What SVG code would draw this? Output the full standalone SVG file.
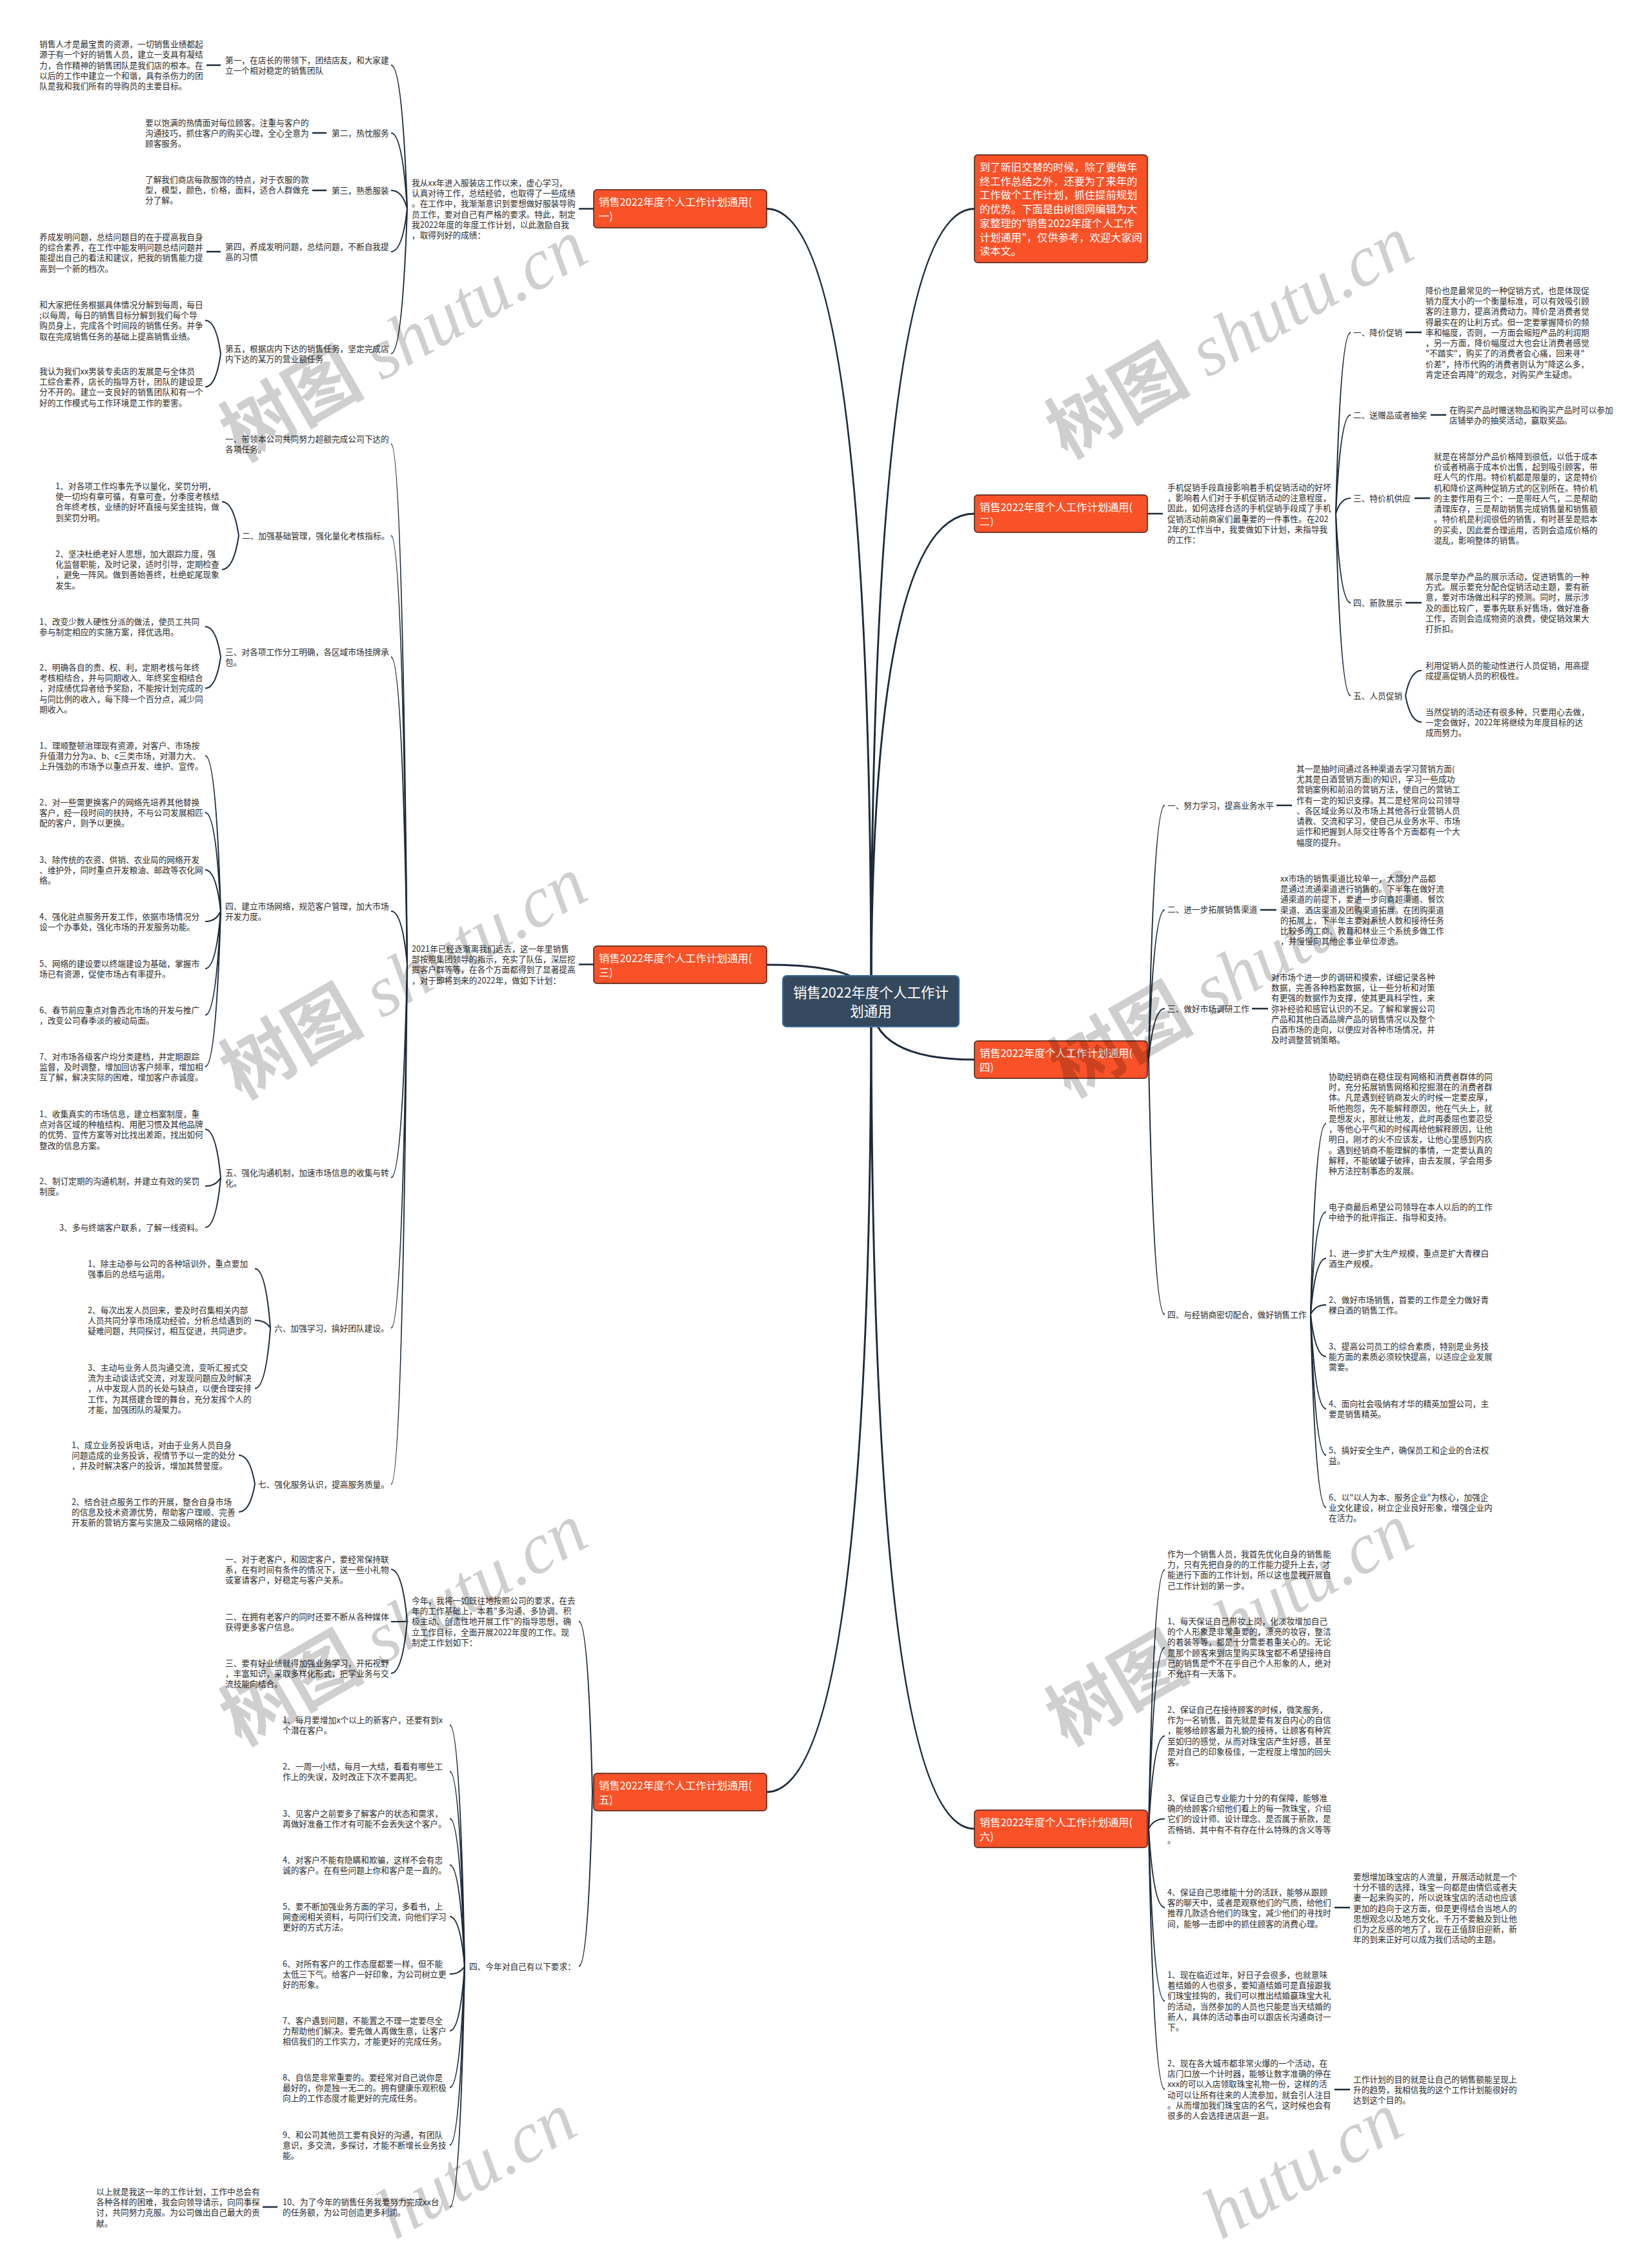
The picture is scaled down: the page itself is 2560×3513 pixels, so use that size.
<svg xmlns="http://www.w3.org/2000/svg" width="2560" height="3513" viewBox="0 0 2560 3513">
<style>
.t{font-family:"Noto Sans CJK SC","Liberation Sans",sans-serif;font-size:12.7px;fill:#2b2b2b}
.bt{font-family:"Noto Sans CJK SC","Liberation Sans",sans-serif;font-size:16.3px;fill:#ffffff}
.rt{font-family:"Noto Sans CJK SC","Liberation Sans",sans-serif;font-size:21.5px;fill:#ffffff}
.box{fill:#fa5228;stroke:#4a1c10;stroke-width:1.5}
.root{fill:#34495e;stroke:#3d6aa0;stroke-width:2}
.c{fill:none;stroke:#1c2b3b;stroke-width:2}
.m{fill:none;stroke:#1c2b3b;stroke-width:3}
.s{fill:none;stroke:#1c2b3b;stroke-width:2.5}
.wm{font-size:112px;fill:#000;fill-opacity:0.19}
.wm1{font-family:"Noto Sans CJK SC",sans-serif;font-weight:bold}
.wm2{font-family:"Liberation Serif",serif;font-style:italic}
</style>
<rect width="2560" height="3513" fill="#ffffff"/>
<g id="connectors">
<path class="m" d="M1350,1551 Q1350,323.5 1188,323.5"/>
<path class="m" d="M1350,1551 Q1350,1495 1188,1495"/>
<path class="m" d="M1350,1551 Q1350,2777 1188,2777"/>
<path class="m" d="M1350,1551 Q1350,323.5 1510,323.5"/>
<path class="m" d="M1350,1551 Q1350,796 1510,796"/>
<path class="m" d="M1350,1551 Q1350,1642 1510,1642"/>
<path class="m" d="M1350,1551 Q1350,2834 1510,2834"/>
<path class="s" d="M897,323.5 H920"/>
<path class="s" d="M897,1494.5 H920"/>
<path class="s" d="M1778,796 H1802"/>
<path class="c" d="M918,2777 Q911.7,2512.6 897,2512.6"/>
<path class="c" d="M918,2777 Q911.7,3047 897,3047"/>
<path class="c" d="M631,323.5 Q623.5,101 606,101"/>
<path class="c" d="M631,323.5 Q623.5,206 606,206"/>
<path class="c" d="M631,323.5 Q623.5,295 606,295"/>
<path class="c" d="M631,323.5 Q623.5,390 606,390"/>
<path class="c" d="M631,323.5 Q623.5,548 606,548"/>
<path class="s" d="M320,101 H342"/>
<path class="s" d="M484,206 H506"/>
<path class="s" d="M484,295 H506"/>
<path class="s" d="M320,390 H342"/>
<path class="c" d="M342,548 Q334.8,496.5 318,496.5"/>
<path class="c" d="M342,548 Q334.8,599.5 318,599.5"/>
<path class="c" d="M631,1494.5 Q623.5,688 606,688"/>
<path class="c" d="M631,1494.5 Q623.5,830 606,830"/>
<path class="c" d="M631,1494.5 Q623.5,1018 606,1018"/>
<path class="c" d="M631,1494.5 Q623.5,1412 606,1412"/>
<path class="c" d="M631,1494.5 Q623.5,1825 606,1825"/>
<path class="c" d="M631,1494.5 Q623.5,2058 606,2058"/>
<path class="c" d="M631,1494.5 Q623.5,2300 606,2300"/>
<path class="c" d="M370,830 Q362,777.5 344,777.5"/>
<path class="c" d="M370,830 Q362,882.5 344,882.5"/>
<path class="c" d="M342,1018 Q334.8,971 318,971"/>
<path class="c" d="M342,1018 Q334.8,1066.6 318,1066.6"/>
<path class="c" d="M342,1412 Q334.8,1171 318,1171"/>
<path class="c" d="M342,1412 Q334.8,1259 318,1259"/>
<path class="c" d="M342,1412 Q334.8,1348 318,1348"/>
<path class="c" d="M342,1412 Q334.8,1428 318,1428"/>
<path class="c" d="M342,1412 Q334.8,1501 318,1501"/>
<path class="c" d="M342,1412 Q334.8,1573 318,1573"/>
<path class="c" d="M342,1412 Q334.8,1653 318,1653"/>
<path class="c" d="M342,1825 Q334.8,1750 318,1750"/>
<path class="c" d="M342,1825 Q334.8,1838 318,1838"/>
<path class="c" d="M342,1825 Q334.8,1902 318,1902"/>
<path class="c" d="M419,2058 Q411.8,1966 395,1966"/>
<path class="c" d="M419,2058 Q411.8,2046 395,2046"/>
<path class="c" d="M419,2058 Q411.8,2151.6 395,2151.6"/>
<path class="c" d="M395,2300 Q387.5,2255 370,2255"/>
<path class="c" d="M395,2300 Q387.5,2343 370,2343"/>
<path class="c" d="M631,2512.6 Q623.5,2432 606,2432"/>
<path class="c" d="M631,2512.6 Q623.5,2513 606,2513"/>
<path class="c" d="M631,2512.6 Q623.5,2593 606,2593"/>
<path class="c" d="M720,3047 Q713,2673 697,2673"/>
<path class="c" d="M720,3047 Q713,2745 697,2745"/>
<path class="c" d="M720,3047 Q713,2818 697,2818"/>
<path class="c" d="M720,3047 Q713,2890 697,2890"/>
<path class="c" d="M720,3047 Q713,2970 697,2970"/>
<path class="c" d="M720,3047 Q713,3059 697,3059"/>
<path class="c" d="M720,3047 Q713,3147 697,3147"/>
<path class="c" d="M720,3047 Q713,3235 697,3235"/>
<path class="c" d="M720,3047 Q713,3324 697,3324"/>
<path class="c" d="M720,3047 Q713,3420 697,3420"/>
<path class="s" d="M407,3420 H430"/>
<path class="c" d="M2070,796 Q2077,515 2093,515"/>
<path class="c" d="M2070,796 Q2077,643 2093,643"/>
<path class="c" d="M2070,796 Q2077,772 2093,772"/>
<path class="c" d="M2070,796 Q2077,934 2093,934"/>
<path class="c" d="M2070,796 Q2077,1078 2093,1078"/>
<path class="s" d="M2178,515 H2203"/>
<path class="s" d="M2217,643 H2241"/>
<path class="s" d="M2192,772 H2216"/>
<path class="s" d="M2178,934 H2203"/>
<path class="c" d="M2178,1078 Q2185.5,1039 2203,1039"/>
<path class="c" d="M2178,1078 Q2185.5,1119 2203,1119"/>
<path class="c" d="M1780,1642 Q1787.5,1248 1805,1248"/>
<path class="c" d="M1780,1642 Q1787.5,1410 1805,1410"/>
<path class="c" d="M1780,1642 Q1787.5,1563 1805,1563"/>
<path class="c" d="M1780,1642 Q1787.5,2037 1805,2037"/>
<path class="s" d="M1978,1248 H2002"/>
<path class="s" d="M1953,1410 H1978"/>
<path class="s" d="M1940,1563 H1965"/>
<path class="c" d="M2031,2037 Q2038,1741 2055,1741"/>
<path class="c" d="M2031,2037 Q2038,1878 2055,1878"/>
<path class="c" d="M2031,2037 Q2038,1950 2055,1950"/>
<path class="c" d="M2031,2037 Q2038,2022 2055,2022"/>
<path class="c" d="M2031,2037 Q2038,2102 2055,2102"/>
<path class="c" d="M2031,2037 Q2038,2183 2055,2183"/>
<path class="c" d="M2031,2037 Q2038,2255 2055,2255"/>
<path class="c" d="M2031,2037 Q2038,2336 2055,2336"/>
<path class="c" d="M1780,2834 Q1787.5,2432.5 1805,2432.5"/>
<path class="c" d="M1780,2834 Q1787.5,2553 1805,2553"/>
<path class="c" d="M1780,2834 Q1787.5,2690 1805,2690"/>
<path class="c" d="M1780,2834 Q1787.5,2818.6 1805,2818.6"/>
<path class="c" d="M1780,2834 Q1787.5,2956 1805,2956"/>
<path class="c" d="M1780,2834 Q1787.5,3100.8 1805,3100.8"/>
<path class="c" d="M1780,2834 Q1787.5,3237.8 1805,3237.8"/>
<path class="s" d="M2068,2956 H2092"/>
<path class="s" d="M2068,3238 H2092"/>
</g>

<g id="root"><rect class="root" x="1213" y="1512" width="273" height="79" rx="6"/>
<text class="rt" text-anchor="middle" x="1349.5" y="1545.8"><tspan x="1349.5">销售2022年度个人工作计</tspan><tspan x="1349.5" dy="29">划通用</tspan></text></g>

<g id="b1"><rect class="box" x="920" y="294" width="268" height="59" rx="5"/>
<text class="bt" x="928" y="319"><tspan x="928">销售2022年度个人工作计划通用(</tspan><tspan x="928" dy="22">一)</tspan></text></g>
<g id="b3"><rect class="box" x="920" y="1466" width="268" height="58" rx="5"/>
<text class="bt" x="928" y="1491"><tspan x="928">销售2022年度个人工作计划通用(</tspan><tspan x="928" dy="22">三)</tspan></text></g>
<g id="b5"><rect class="box" x="920" y="2748" width="268" height="58" rx="5"/>
<text class="bt" x="928" y="2773"><tspan x="928">销售2022年度个人工作计划通用(</tspan><tspan x="928" dy="22">五)</tspan></text></g>
<g id="note"><rect class="box" x="1510" y="240" width="268" height="167" rx="5"/>
<text class="bt" x="1518" y="265"><tspan x="1518">到了新旧交替的时候，除了要做年</tspan><tspan x="1518" dy="21.7">终工作总结之外，还要为了来年的</tspan><tspan x="1518" dy="21.7">工作做个工作计划，抓住提前规划</tspan><tspan x="1518" dy="21.7">的优势。下面是由树图网编辑为大</tspan><tspan x="1518" dy="21.7">家整理的"销售2022年度个人工作</tspan><tspan x="1518" dy="21.7">计划通用"，仅供参考，欢迎大家阅</tspan><tspan x="1518" dy="21.7">读本文。</tspan></text></g>
<g id="b2"><rect class="box" x="1510" y="767" width="268" height="58" rx="5"/>
<text class="bt" x="1518" y="792"><tspan x="1518">销售2022年度个人工作计划通用(</tspan><tspan x="1518" dy="22">二)</tspan></text></g>
<g id="b4"><rect class="box" x="1510" y="1613" width="268" height="58" rx="5"/>
<text class="bt" x="1518" y="1638"><tspan x="1518">销售2022年度个人工作计划通用(</tspan><tspan x="1518" dy="22">四)</tspan></text></g>
<g id="b6"><rect class="box" x="1510" y="2805" width="268" height="58" rx="5"/>
<text class="bt" x="1518" y="2830"><tspan x="1518">销售2022年度个人工作计划通用(</tspan><tspan x="1518" dy="22">六)</tspan></text></g>

<g id="s1">
<text class="t" x="638" y="287.6"><tspan x="638">我从xx年进入服装店工作以来，虚心学习，</tspan><tspan x="638" dy="16.3">认真对待工作，总结经验，也取得了一些成绩</tspan><tspan x="638" dy="16.3">。在工作中，我渐渐意识到要想做好服装导购</tspan><tspan x="638" dy="16.3">员工作，要对自己有严格的要求。特此，制定</tspan><tspan x="638" dy="16.3">我2022年度的年度工作计划，以此激励自我</tspan><tspan x="638" dy="16.3">，取得列好的成绩：</tspan></text>
<text class="t" x="349" y="97.6"><tspan x="349">第一，在店长的带领下，团结店友，和大家建</tspan><tspan x="349" dy="16.3">立一个相对稳定的销售团队</tspan></text>
<text class="t" x="61" y="73.1"><tspan x="61">销售人才是最宝贵的资源，一切销售业绩都起</tspan><tspan x="61" dy="16.3">源于有一个好的销售人员，建立一支具有凝结</tspan><tspan x="61" dy="16.3">力，合作精神的销售团队是我们店的根本。在</tspan><tspan x="61" dy="16.3">以后的工作中建立一个和谐，具有杀伤力的团</tspan><tspan x="61" dy="16.3">队是我和我们所有的导购员的主要目标。</tspan></text>
<text class="t" x="514" y="210.6">第二，热忱服务</text>
<text class="t" x="225" y="194.6"><tspan x="225">要以饱满的热情面对每位顾客。注重与客户的</tspan><tspan x="225" dy="16.3">沟通技巧，抓住客户的购买心理，全心全意为</tspan><tspan x="225" dy="16.3">顾客服务。</tspan></text>
<text class="t" x="514" y="299.6">第三，熟悉服装</text>
<text class="t" x="225" y="282.6"><tspan x="225">了解我们商店每款服饰的特点，对于衣服的款</tspan><tspan x="225" dy="16.3">型，模型，颜色，价格，面料，适合人群做充</tspan><tspan x="225" dy="16.3">分了解。</tspan></text>
<text class="t" x="349" y="386.6"><tspan x="349">第四，养成发明问题，总结问题，不断自我提</tspan><tspan x="349" dy="16.3">高的习惯</tspan></text>
<text class="t" x="61" y="371.6"><tspan x="61">养成发明问题，总结问题目的在于提高我自身</tspan><tspan x="61" dy="16.3">的综合素养，在工作中能发明问题总结问题并</tspan><tspan x="61" dy="16.3">能提出自己的看法和建议，把我的销售能力提</tspan><tspan x="61" dy="16.3">高到一个新的档次。</tspan></text>
<text class="t" x="349" y="544.6"><tspan x="349">第五，根据店内下达的销售任务，坚定完成店</tspan><tspan x="349" dy="16.3">内下达的某万的营业额任务</tspan></text>
<text class="t" x="61" y="476.6"><tspan x="61">和大家把任务根据具体情况分解到每周，每日</tspan><tspan x="61" dy="16.3">;以每周，每日的销售目标分解到我们每个导</tspan><tspan x="61" dy="16.3">购员身上，完成各个时间段的销售任务。并争</tspan><tspan x="61" dy="16.3">取在完成销售任务的基础上提高销售业绩。</tspan></text>
<text class="t" x="61" y="579.6"><tspan x="61">我认为我们xx男装专卖店的发展是与全体员</tspan><tspan x="61" dy="16.3">工综合素养，店长的指导方针，团队的建设是</tspan><tspan x="61" dy="16.3">分不开的。建立一支良好的销售团队和有一个</tspan><tspan x="61" dy="16.3">好的工作模式与工作环境是工作的要害。</tspan></text>
</g>

<g id="s3">
<text class="t" x="638" y="1474.6"><tspan x="638">2021年已经逐渐离我们远去，这一年里销售</tspan><tspan x="638" dy="16.3">部按照集团领导的指示，充实了队伍，深层挖</tspan><tspan x="638" dy="16.3">掘客户群等等，在各个方面都得到了显著提高</tspan><tspan x="638" dy="16.3">，对于即将到来的2022年，做如下计划：</tspan></text>
<text class="t" x="349" y="684.6"><tspan x="349">一、带领本公司共同努力超额完成公司下达的</tspan><tspan x="349" dy="16.3">各项任务。</tspan></text>
<text class="t" x="375" y="834.6">二、加强基础管理，强化量化考核指标。</text>
<text class="t" x="86" y="757.6"><tspan x="86">1、对各项工作均事先予以量化，奖罚分明，</tspan><tspan x="86" dy="16.3">使一切均有章可循，有章可查，分季度考核结</tspan><tspan x="86" dy="16.3">合年终考核，业绩的好坏直接与奖金挂钩，做</tspan><tspan x="86" dy="16.3">到奖罚分明。</tspan></text>
<text class="t" x="86" y="862.6"><tspan x="86">2、坚决杜绝老好人思想，加大跟踪力度，强</tspan><tspan x="86" dy="16.3">化监督职能，及时记录，适时引导，定期检查</tspan><tspan x="86" dy="16.3">，避免一阵风。做到善始善终，杜绝蛇尾现象</tspan><tspan x="86" dy="16.3">发生。</tspan></text>
<text class="t" x="349" y="1014.6"><tspan x="349">三、对各项工作分工明确，各区域市场挂牌承</tspan><tspan x="349" dy="16.3">包。</tspan></text>
<text class="t" x="61" y="967.6"><tspan x="61">1、改变少数人硬性分派的做法，使员工共同</tspan><tspan x="61" dy="16.3">参与制定相应的实施方案，择优选用。</tspan></text>
<text class="t" x="61" y="1038.6"><tspan x="61">2、明确各自的责、权、利，定期考核与年终</tspan><tspan x="61" dy="16.3">考核相结合，并与同期收入、年终奖金相结合</tspan><tspan x="61" dy="16.3">，对成绩优异者给予奖励，不能按计划完成的</tspan><tspan x="61" dy="16.3">与同比例的收入，每下降一个百分点，减少同</tspan><tspan x="61" dy="16.3">期收入。</tspan></text>
<text class="t" x="349" y="1408.6"><tspan x="349">四、建立市场网络，规范客户管理，加大市场</tspan><tspan x="349" dy="16.3">开发力度。</tspan></text>
<text class="t" x="61" y="1159.6"><tspan x="61">1、理顺整顿治理现有资源，对客户、市场按</tspan><tspan x="61" dy="16.3">升值潜力分为a、b、c三类市场，对潜力大、</tspan><tspan x="61" dy="16.3">上升强劲的市场予以重点开发、维护、宣传。</tspan></text>
<text class="t" x="61" y="1247.6"><tspan x="61">2、对一些需更换客户的网络先培养其他替换</tspan><tspan x="61" dy="16.3">客户，经一段时间的扶持，不与公司发展相匹</tspan><tspan x="61" dy="16.3">配的客户，则予以更换。</tspan></text>
<text class="t" x="61" y="1336.6"><tspan x="61">3、除传统的农资、供销、农业局的网络开发</tspan><tspan x="61" dy="16.3">、维护外，同时重点开发粮油、邮政等农化网</tspan><tspan x="61" dy="16.3">络。</tspan></text>
<text class="t" x="61" y="1424.6"><tspan x="61">4、强化驻点服务开发工作，依据市场情况分</tspan><tspan x="61" dy="16.3">设一个办事处，强化市场的开发服务功能。</tspan></text>
<text class="t" x="61" y="1497.6"><tspan x="61">5、网络的建设要以终端建设为基础，掌握市</tspan><tspan x="61" dy="16.3">场已有资源，促使市场占有率提升。</tspan></text>
<text class="t" x="61" y="1569.6"><tspan x="61">6、春节前应重点对鲁西北市场的开发与推广</tspan><tspan x="61" dy="16.3">，改变公司春季淡的被动局面。</tspan></text>
<text class="t" x="61" y="1641.6"><tspan x="61">7、对市场各级客户均分类建档，并定期跟踪</tspan><tspan x="61" dy="16.3">监督，及时调整，增加回访客户频率，增加相</tspan><tspan x="61" dy="16.3">互了解，解决实际的困难，增加客户赤诚度。</tspan></text>
<text class="t" x="349" y="1821.6"><tspan x="349">五、强化沟通机制，加速市场信息的收集与转</tspan><tspan x="349" dy="16.3">化。</tspan></text>
<text class="t" x="61" y="1730.6"><tspan x="61">1、收集真实的市场信息，建立档案制度，重</tspan><tspan x="61" dy="16.3">点对各区域的种植结构、用肥习惯及其他品牌</tspan><tspan x="61" dy="16.3">的优势、宣传方案等对比找出差距，找出如何</tspan><tspan x="61" dy="16.3">整改的信息方案。</tspan></text>
<text class="t" x="61" y="1834.6"><tspan x="61">2、制订定期的沟通机制，并建立有效的奖罚</tspan><tspan x="61" dy="16.3">制度。</tspan></text>
<text class="t" x="92" y="1906.6">3、多与终端客户联系，了解一线资料。</text>
<text class="t" x="425" y="2062.6">六、加强学习，搞好团队建设。</text>
<text class="t" x="136" y="1962.6"><tspan x="136">1、除主动参与公司的各种培训外，重点要加</tspan><tspan x="136" dy="16.3">强事后的总结与运用。</tspan></text>
<text class="t" x="136" y="2034.6"><tspan x="136">2、每次出发人员回来，要及时召集相关内部</tspan><tspan x="136" dy="16.3">人员共同分享市场成功经验，分析总结遇到的</tspan><tspan x="136" dy="16.3">疑难问题，共同探讨，相互促进，共同进步。</tspan></text>
<text class="t" x="136" y="2123.6"><tspan x="136">3、主动与业务人员沟通交流，变听汇报式交</tspan><tspan x="136" dy="16.3">流为主动谈话式交流，对发现问题应及时解决</tspan><tspan x="136" dy="16.3">，从中发现人员的长处与缺点，以便合理安排</tspan><tspan x="136" dy="16.3">工作，为其搭建合理的舞台，充分发挥个人的</tspan><tspan x="136" dy="16.3">才能，加强团队的凝聚力。</tspan></text>
<text class="t" x="400" y="2304.6">七、强化服务认识，提高服务质量。</text>
<text class="t" x="111" y="2243.6"><tspan x="111">1、成立业务投诉电话，对由于业务人员自身</tspan><tspan x="111" dy="16.3">问题造成的业务投诉，视情节予以一定的处分</tspan><tspan x="111" dy="16.3">，并及时解决客户的投诉，增加其赞誉度。</tspan></text>
<text class="t" x="111" y="2331.6"><tspan x="111">2、结合驻点服务工作的开展，整合自身市场</tspan><tspan x="111" dy="16.3">的信息及技术资源优势，帮助客户理顺、完善</tspan><tspan x="111" dy="16.3">开发新的营销方案与实施及二级网络的建设。</tspan></text>
</g>

<g id="s5">
<text class="t" x="638" y="2484.6"><tspan x="638">今年，我将一如既往地按照公司的要求，在去</tspan><tspan x="638" dy="16.3">年的工作基础上，本着"多沟通、多协调、积</tspan><tspan x="638" dy="16.3">极主动、创造性地开展工作"的指导思想，确</tspan><tspan x="638" dy="16.3">立工作目标，全面开展2022年度的工作。现</tspan><tspan x="638" dy="16.3">制定工作划如下：</tspan></text>
<text class="t" x="349" y="2420.6"><tspan x="349">一、对于老客户，和固定客户，要经常保持联</tspan><tspan x="349" dy="16.3">系，在有时间有条件的情况下，送一些小礼物</tspan><tspan x="349" dy="16.3">或宴请客户，好稳定与客户关系。</tspan></text>
<text class="t" x="349" y="2509.6"><tspan x="349">二、在拥有老客户的同时还要不断从各种媒体</tspan><tspan x="349" dy="16.3">获得更多客户信息。</tspan></text>
<text class="t" x="349" y="2581.6"><tspan x="349">三、要有好业绩就得加强业务学习，开拓视野</tspan><tspan x="349" dy="16.3">，丰富知识，采取多样化形式，把学业务与交</tspan><tspan x="349" dy="16.3">流技能向结合。</tspan></text>
<text class="t" x="727" y="3051.6">四、今年对自己有以下要求：</text>
<text class="t" x="438" y="2669.6"><tspan x="438">1、每月要增加x个以上的新客户，还要有到x</tspan><tspan x="438" dy="16.3">个潜在客户。</tspan></text>
<text class="t" x="438" y="2741.6"><tspan x="438">2、一周一小结，每月一大结，看看有哪些工</tspan><tspan x="438" dy="16.3">作上的失误，及时改正下次不要再犯。</tspan></text>
<text class="t" x="438" y="2814.6"><tspan x="438">3、见客户之前要多了解客户的状态和需求，</tspan><tspan x="438" dy="16.3">再做好准备工作才有可能不会丢失这个客户。</tspan></text>
<text class="t" x="438" y="2886.6"><tspan x="438">4、对客户不能有隐瞒和欺骗，这样不会有忠</tspan><tspan x="438" dy="16.3">诚的客户。在有些问题上你和客户是一直的。</tspan></text>
<text class="t" x="438" y="2958.6"><tspan x="438">5、要不断加强业务方面的学习，多看书，上</tspan><tspan x="438" dy="16.3">网查阅相关资料，与同行们交流，向他们学习</tspan><tspan x="438" dy="16.3">更好的方式方法。</tspan></text>
<text class="t" x="438" y="3047.6"><tspan x="438">6、对所有客户的工作态度都要一样，但不能</tspan><tspan x="438" dy="16.3">太低三下气。给客户一好印象，为公司树立更</tspan><tspan x="438" dy="16.3">好的形象。</tspan></text>
<text class="t" x="438" y="3135.6"><tspan x="438">7、客户遇到问题，不能置之不理一定要尽全</tspan><tspan x="438" dy="16.3">力帮助他们解决。要先做人再做生意，让客户</tspan><tspan x="438" dy="16.3">相信我们的工作实力，才能更好的完成任务。</tspan></text>
<text class="t" x="438" y="3223.6"><tspan x="438">8、自信是非常重要的。要经常对自己说你是</tspan><tspan x="438" dy="16.3">最好的，你是独一无二的。拥有健康乐观积极</tspan><tspan x="438" dy="16.3">向上的工作态度才能更好的完成任务。</tspan></text>
<text class="t" x="438" y="3312.6"><tspan x="438">9、和公司其他员工要有良好的沟通，有团队</tspan><tspan x="438" dy="16.3">意识，多交流，多探讨，才能不断增长业务技</tspan><tspan x="438" dy="16.3">能。</tspan></text>
<text class="t" x="438" y="3416.6"><tspan x="438">10、为了今年的销售任务我要努力完成xx台</tspan><tspan x="438" dy="16.3">的任务额，为公司创造更多利润。</tspan></text>
<text class="t" x="149" y="3400.6"><tspan x="149">以上就是我这一年的工作计划，工作中总会有</tspan><tspan x="149" dy="16.3">各种各样的困难，我会向领导请示，向同事探</tspan><tspan x="149" dy="16.3">讨，共同努力克服。为公司做出自己最大的贡</tspan><tspan x="149" dy="16.3">献。</tspan></text>
</g>

<g id="s2">
<text class="t" x="1809" y="759.6"><tspan x="1809">手机促销手段直接影响着手机促销活动的好坏</tspan><tspan x="1809" dy="16.3">，影响着人们对于手机促销活动的注意程度，</tspan><tspan x="1809" dy="16.3">因此，如何选择合适的手机促销手段成了手机</tspan><tspan x="1809" dy="16.3">促销活动前商家们最重要的一件事性。在202</tspan><tspan x="1809" dy="16.3">2年的工作当中，我要做如下计划，来指导我</tspan><tspan x="1809" dy="16.3">的工作：</tspan></text>
<text class="t" x="2097" y="519.6">一、降价促销</text>
<text class="t" x="2209" y="454.6"><tspan x="2209">降价也是最常见的一种促销方式，也是体现促</tspan><tspan x="2209" dy="16.3">销力度大小的一个衡量标准，可以有效吸引顾</tspan><tspan x="2209" dy="16.3">客的注意力，提高消费动力。降价是消费者觉</tspan><tspan x="2209" dy="16.3">得最实在的让利方式。但一定要掌握降价的频</tspan><tspan x="2209" dy="16.3">率和幅度，否则，一方面会缩短产品的利润期</tspan><tspan x="2209" dy="16.3">，另一方面，降价幅度过大也会让消费者感觉</tspan><tspan x="2209" dy="16.3">"不踏实"，购买了的消费者会心痛，回来寻"</tspan><tspan x="2209" dy="16.3">价差"，持币代购的消费者则认为"降这么多，</tspan><tspan x="2209" dy="16.3">肯定还会再降"的观念，对购买产生疑虑。</tspan></text>
<text class="t" x="2097" y="647.6">二、送赠品或者抽奖</text>
<text class="t" x="2246" y="639.6"><tspan x="2246">在购买产品时赠送物品和购买产品时可以参加</tspan><tspan x="2246" dy="16.3">店铺举办的抽奖活动，赢取奖品。</tspan></text>
<text class="t" x="2097" y="776.6">三、特价机供应</text>
<text class="t" x="2222" y="711.6"><tspan x="2222">就是在将部分产品价格降到很低，以低于成本</tspan><tspan x="2222" dy="16.3">价或者稍高于成本价出售，起到吸引顾客，带</tspan><tspan x="2222" dy="16.3">旺人气的作用。特价机都是限量的，这是特价</tspan><tspan x="2222" dy="16.3">机和降价这两种促销方式的区别所在。特价机</tspan><tspan x="2222" dy="16.3">的主要作用有三个：一是带旺人气，二是帮助</tspan><tspan x="2222" dy="16.3">清理库存，三是帮助销售完成销售量和销售额</tspan><tspan x="2222" dy="16.3">。特价机是利润很低的销售，有时甚至是赔本</tspan><tspan x="2222" dy="16.3">的买卖，因此要合理运用，否则会造成价格的</tspan><tspan x="2222" dy="16.3">混乱，影响整体的销售。</tspan></text>
<text class="t" x="2097" y="938.6">四、新款展示</text>
<text class="t" x="2209" y="897.6"><tspan x="2209">展示是举办产品的展示活动，促进销售的一种</tspan><tspan x="2209" dy="16.3">方式。展示要充分配合促销活动主题，要有新</tspan><tspan x="2209" dy="16.3">意，要对市场做出科学的预测。同时，展示涉</tspan><tspan x="2209" dy="16.3">及的面比较广，要事先联系好售场，做好准备</tspan><tspan x="2209" dy="16.3">工作，否则会造成物资的浪费，使促销效果大</tspan><tspan x="2209" dy="16.3">打折扣。</tspan></text>
<text class="t" x="2097" y="1082.6">五、人员促销</text>
<text class="t" x="2209" y="1035.6"><tspan x="2209">利用促销人员的能动性进行人员促销，用高提</tspan><tspan x="2209" dy="16.3">成提高促销人员的积极性。</tspan></text>
<text class="t" x="2209" y="1107.6"><tspan x="2209">当然促销的活动还有很多种，只要用心去做，</tspan><tspan x="2209" dy="16.3">一定会做好，2022年将继续为年度目标的达</tspan><tspan x="2209" dy="16.3">成而努力。</tspan></text>
</g>

<g id="s4">
<text class="t" x="1809" y="1252.6">一、努力学习，提高业务水平</text>
<text class="t" x="2009" y="1195.6"><tspan x="2009">其一是抽时间通过各种渠道去学习营销方面(</tspan><tspan x="2009" dy="16.3">尤其是白酒营销方面)的知识，学习一些成功</tspan><tspan x="2009" dy="16.3">营销案例和前沿的营销方法，使自己的营销工</tspan><tspan x="2009" dy="16.3">作有一定的知识支撑。其二是经常向公司领导</tspan><tspan x="2009" dy="16.3">、各区域业务以及市场上其他各行业营销人员</tspan><tspan x="2009" dy="16.3">请教、交流和学习，使自己从业务水平、市场</tspan><tspan x="2009" dy="16.3">运作和把握到人际交往等各个方面都有一个大</tspan><tspan x="2009" dy="16.3">幅度的提升。</tspan></text>
<text class="t" x="1809" y="1413.6">二、进一步拓展销售渠道</text>
<text class="t" x="1984" y="1365.6"><tspan x="1984">xx市场的销售渠道比较单一，大部分产品都</tspan><tspan x="1984" dy="16.3">是通过流通渠道进行销售的。下半年在做好流</tspan><tspan x="1984" dy="16.3">通渠道的前提下，要进一步向商超渠道、餐饮</tspan><tspan x="1984" dy="16.3">渠道、酒店渠道及团购渠道拓展。在团购渠道</tspan><tspan x="1984" dy="16.3">的拓展上，下半年主要对系统人数和接待任务</tspan><tspan x="1984" dy="16.3">比较多的工商、教育和林业三个系统多做工作</tspan><tspan x="1984" dy="16.3">，并慢慢向其他企事业单位渗透。</tspan></text>
<text class="t" x="1809" y="1567.6">三、做好市场调研工作</text>
<text class="t" x="1970" y="1518.6"><tspan x="1970">对市场个进一步的调研和摸索，详细记录各种</tspan><tspan x="1970" dy="16.3">数据，完善各种档案数据，让一些分析和对策</tspan><tspan x="1970" dy="16.3">有更强的数据作为支撑，使其更具科学性，来</tspan><tspan x="1970" dy="16.3">弥补经验和感官认识的不足。了解和掌握公司</tspan><tspan x="1970" dy="16.3">产品和其他白酒品牌产品的销售情况以及整个</tspan><tspan x="1970" dy="16.3">白酒市场的走向，以便应对各种市场情况，并</tspan><tspan x="1970" dy="16.3">及时调整营销策略。</tspan></text>
<text class="t" x="1809" y="2041.6">四、与经销商密切配合，做好销售工作</text>
<text class="t" x="2059" y="1672.6"><tspan x="2059">协助经销商在稳住现有网络和消费者群体的同</tspan><tspan x="2059" dy="16.3">时，充分拓展销售网络和挖掘潜在的消费者群</tspan><tspan x="2059" dy="16.3">体。凡是遇到经销商发火的时候一定要皮厚，</tspan><tspan x="2059" dy="16.3">听他抱怨，先不能解释原因，他在气头上，就</tspan><tspan x="2059" dy="16.3">是想发火，那就让他发，此时再委屈也要忍受</tspan><tspan x="2059" dy="16.3">，等他心平气和的时候再给他解释原因，让他</tspan><tspan x="2059" dy="16.3">明白，刚才的火不应该发，让他心里感到内疚</tspan><tspan x="2059" dy="16.3">。遇到经销商不能理解的事情，一定要认真的</tspan><tspan x="2059" dy="16.3">解释，不能破罐子破摔，由去发展，学会用多</tspan><tspan x="2059" dy="16.3">种方法控制事态的发展。</tspan></text>
<text class="t" x="2059" y="1874.6"><tspan x="2059">电子商最后希望公司领导在本人以后的的工作</tspan><tspan x="2059" dy="16.3">中给予的批评指正、指导和支持。</tspan></text>
<text class="t" x="2059" y="1946.6"><tspan x="2059">1、进一步扩大生产规模，重点是扩大青稞白</tspan><tspan x="2059" dy="16.3">酒生产规模。</tspan></text>
<text class="t" x="2059" y="2018.6"><tspan x="2059">2、做好市场销售，首要的工作是全力做好青</tspan><tspan x="2059" dy="16.3">稞白酒的销售工作。</tspan></text>
<text class="t" x="2059" y="2090.6"><tspan x="2059">3、提高公司员工的综合素质，特别是业务技</tspan><tspan x="2059" dy="16.3">能方面的素质必须较快提高，以适应企业发展</tspan><tspan x="2059" dy="16.3">需要。</tspan></text>
<text class="t" x="2059" y="2179.6"><tspan x="2059">4、面向社会吸纳有才华的精英加盟公司，主</tspan><tspan x="2059" dy="16.3">要是销售精英。</tspan></text>
<text class="t" x="2059" y="2251.6"><tspan x="2059">5、搞好安全生产，确保员工和企业的合法权</tspan><tspan x="2059" dy="16.3">益。</tspan></text>
<text class="t" x="2059" y="2324.6"><tspan x="2059">6、以"以人为本、服务企业"为核心，加强企</tspan><tspan x="2059" dy="16.3">业文化建设，树立企业良好形象，增强企业内</tspan><tspan x="2059" dy="16.3">在活力。</tspan></text>
</g>

<g id="s6">
<text class="t" x="1809" y="2412.6"><tspan x="1809">作为一个销售人员，我首先优化自身的销售能</tspan><tspan x="1809" dy="16.3">力，只有先把自身的的工作能力提升上去，才</tspan><tspan x="1809" dy="16.3">能进行下面的工作计划，所以这也是我开展自</tspan><tspan x="1809" dy="16.3">己工作计划的第一步。</tspan></text>
<text class="t" x="1809" y="2516.6"><tspan x="1809">1、每天保证自己带妆上岗，化淡妆增加自己</tspan><tspan x="1809" dy="16.3">的个人形象是非常重要的，漂亮的妆容，整洁</tspan><tspan x="1809" dy="16.3">的着装等等，都是十分需要着重关心的。无论</tspan><tspan x="1809" dy="16.3">是那个顾客来到店里购买珠宝都不希望接待自</tspan><tspan x="1809" dy="16.3">己的销售是个不在乎自己个人形象的人，绝对</tspan><tspan x="1809" dy="16.3">不允许有一天落下。</tspan></text>
<text class="t" x="1809" y="2653.6"><tspan x="1809">2、保证自己在接待顾客的时候，微笑服务，</tspan><tspan x="1809" dy="16.3">作为一名销售，首先就是要有发自内心的自信</tspan><tspan x="1809" dy="16.3">，能够给顾客最为礼貌的接待，让顾客有种宾</tspan><tspan x="1809" dy="16.3">至如归的感觉，从而对珠宝店产生好感，甚至</tspan><tspan x="1809" dy="16.3">是对自己的印象极佳，一定程度上增加的回头</tspan><tspan x="1809" dy="16.3">客。</tspan></text>
<text class="t" x="1809" y="2790.6"><tspan x="1809">3、保证自己专业能力十分的有保障，能够准</tspan><tspan x="1809" dy="16.3">确的给顾客介绍他们看上的每一款珠宝，介绍</tspan><tspan x="1809" dy="16.3">它们的设计师、设计理念、是否属于新款，是</tspan><tspan x="1809" dy="16.3">否畅销、其中有不有存在什么特殊的含义等等</tspan><tspan x="1809" dy="16.3">。</tspan></text>
<text class="t" x="1809" y="2936.6"><tspan x="1809">4、保证自己思维能十分的活跃，能够从跟顾</tspan><tspan x="1809" dy="16.3">客的聊天中，或者是观察他们的气质，给他们</tspan><tspan x="1809" dy="16.3">推荐几款适合他们的珠宝，减少他们的寻找时</tspan><tspan x="1809" dy="16.3">间，能够一击即中的抓住顾客的消费心理。</tspan></text>
<text class="t" x="2097" y="2912.6"><tspan x="2097">要想增加珠宝店的人流量，开展活动就是一个</tspan><tspan x="2097" dy="16.3">十分不错的选择，珠宝一向都是由情侣或者夫</tspan><tspan x="2097" dy="16.3">妻一起来购买的，所以说珠宝店的活动也应该</tspan><tspan x="2097" dy="16.3">更加的趋向于这方面，但是更得结合当地人的</tspan><tspan x="2097" dy="16.3">思想观念以及地方文化，千万不要触及到让他</tspan><tspan x="2097" dy="16.3">们为之反感的地方了，现在正值辞旧迎新，新</tspan><tspan x="2097" dy="16.3">年的到来正好可以成为我们活动的主题。</tspan></text>
<text class="t" x="1809" y="3064.6"><tspan x="1809">1、现在临近过年，好日子会很多，也就意味</tspan><tspan x="1809" dy="16.3">着结婚的人也很多，要知道结婚可是直接跟我</tspan><tspan x="1809" dy="16.3">们珠宝挂钩的，我们可以推出结婚赢珠宝大礼</tspan><tspan x="1809" dy="16.3">的活动，当然参加的人员也只能是当天结婚的</tspan><tspan x="1809" dy="16.3">新人，具体的活动事由可以跟店长沟通商讨一</tspan><tspan x="1809" dy="16.3">下。</tspan></text>
<text class="t" x="1809" y="3201.6"><tspan x="1809">2、现在各大城市都非常火爆的一个活动，在</tspan><tspan x="1809" dy="16.3">店门口放一个计时器，能够让数字准确的停在</tspan><tspan x="1809" dy="16.3">xxx的可以入店领取珠宝礼物一份，这样的活</tspan><tspan x="1809" dy="16.3">动可以让所有往来的人流参加，就会引人注目</tspan><tspan x="1809" dy="16.3">。从而增加我们珠宝店的名气，这时候也会有</tspan><tspan x="1809" dy="16.3">很多的人会选择进店逛一逛。</tspan></text>
<text class="t" x="2097" y="3226.6"><tspan x="2097">工作计划的目的就是让自己的销售额能呈现上</tspan><tspan x="2097" dy="16.3">升的趋势，我相信我的这个工作计划能很好的</tspan><tspan x="2097" dy="16.3">达到这个目的。</tspan></text>
</g>

<g id="watermarks" class="wm" text-anchor="middle">
<text transform="translate(645,560) rotate(-30)"><tspan class="wm1">树图</tspan><tspan class="wm2"> shutu.cn</tspan></text>
<text transform="translate(1925,555) rotate(-30)"><tspan class="wm1">树图</tspan><tspan class="wm2"> shutu.cn</tspan></text>
<text transform="translate(645,1548) rotate(-30)"><tspan class="wm1">树图</tspan><tspan class="wm2"> shutu.cn</tspan></text>
<text transform="translate(1930,1545) rotate(-30)"><tspan class="wm1">树图</tspan><tspan class="wm2"> shutu.cn</tspan></text>
<text transform="translate(645,2550) rotate(-30)"><tspan class="wm1">树图</tspan><tspan class="wm2"> shutu.cn</tspan></text>
<text transform="translate(1925,2550) rotate(-30)"><tspan class="wm1">树图</tspan><tspan class="wm2"> shutu.cn</tspan></text>
<text class="wm2" text-anchor="start" transform="translate(612,3472) rotate(-30)">hutu.cn</text>
<text class="wm2" text-anchor="start" transform="translate(1892,3472) rotate(-30)">hutu.cn</text>
</g>
</svg>
